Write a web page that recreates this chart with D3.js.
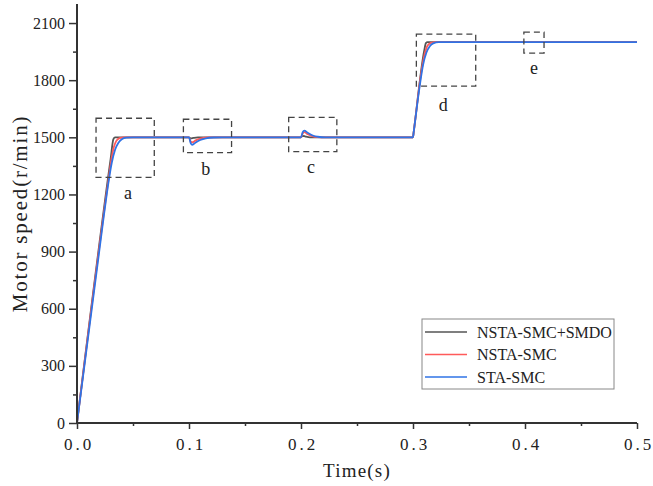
<!DOCTYPE html>
<html>
<head>
<meta charset="utf-8">
<script src="https://cdn.jsdelivr.net/npm/d3@7"></script>
<style>
  html, body { margin: 0; padding: 0; background: #fff; }
  svg { display: block; }
</style>
</head>
<body>
<svg id="chart" width="653" height="486"></svg>
<script>
// Speed response samples [time (s), speed (r/min)]
const nstaSmdo = [
  [0, 0], [0.030, 1385], [0.0325, 1490], [0.034, 1500],
  [0.1, 1500], [0.1015, 1494], [0.104, 1497], [0.108, 1500],
  [0.2, 1500], [0.2015, 1508], [0.204, 1504], [0.208, 1500],
  [0.3, 1500], [0.3005, 1522], [0.310, 1955], [0.3115, 1995], [0.313, 2000],
  [0.5, 2000]
];
const nstaSmc = [
  [0, 0], [0.028, 1272], [0.031, 1395], [0.033, 1450], [0.035, 1480], [0.038, 1496], [0.042, 1500],
  [0.1, 1500], [0.1015, 1478], [0.103, 1474], [0.106, 1484], [0.110, 1493], [0.116, 1499], [0.122, 1500],
  [0.2, 1500], [0.2015, 1520], [0.203, 1527], [0.206, 1516], [0.210, 1506], [0.215, 1501], [0.220, 1500],
  [0.3, 1500], [0.3005, 1522], [0.308, 1864], [0.311, 1950], [0.313, 1982], [0.316, 1996], [0.320, 2000],
  [0.5, 2000]
];
const staSmc = [
  [0, 0], [0.024, 1090], [0.028, 1260], [0.031, 1365], [0.034, 1435], [0.037, 1472], [0.040, 1490], [0.044, 1498], [0.050, 1500],
  [0.1, 1500], [0.1015, 1470], [0.103, 1461], [0.106, 1473], [0.110, 1486], [0.115, 1495], [0.122, 1499], [0.130, 1500],
  [0.2, 1500], [0.2015, 1527], [0.203, 1535], [0.206, 1524], [0.210, 1511], [0.215, 1503], [0.222, 1500],
  [0.3, 1500], [0.3005, 1522], [0.306, 1770], [0.309, 1880], [0.312, 1945], [0.315, 1978], [0.318, 1993], [0.323, 2000],
  [0.5, 2000]
];

const seriesNames = ["NSTA-SMC+SMDO", "NSTA-SMC", "STA-SMC"];
const seriesColors = ["#555555", "#ff5a5a", "#2f73e6"];
const seriesData = [nstaSmdo, nstaSmc, staSmc];

const xTicks = [0, 0.1, 0.2, 0.3, 0.4, 0.5];
const xMinor = [0.05, 0.15, 0.25, 0.35, 0.45];
const yTicks = [0, 300, 600, 900, 1200, 1500, 1800, 2100];
const yMinor = [150, 450, 750, 1050, 1350, 1650, 1950];

// Zoom windows [t0, t1, v0, v1] and their letters
const zoomBoxes = [
  [0.017, 0.069, 1290, 1600],
  [0.095, 0.138, 1420, 1595],
  [0.189, 0.232, 1425, 1605],
  [0.303, 0.356, 1769, 2042],
  [0.399, 0.417, 1942, 2052]
];
const zoomLabels = ["a", "b", "c", "d", "e"];
// label anchor [time, speed]
const zoomLabelPos = [[0.0455, 1175], [0.115, 1300], [0.209, 1315], [0.327, 1640], [0.408, 1835]];

const svg = d3.select("#chart");
const plotLeft = 77, plotRight = 637, plotTop = 4, plotBottom = 423;

const x = d3.scaleLinear().domain([0, 0.5]).range([plotLeft, plotRight]);
const y = d3.scaleLinear().domain([0, 2200]).range([plotBottom, plotTop]);

const serif = "'Liberation Serif', 'DejaVu Serif', serif";

// minor ticks
const xMinorAxis = d3.axisBottom(x).tickValues(xMinor).tickSize(3).tickFormat("");
const yMinorAxis = d3.axisLeft(y).tickValues(yMinor).tickSize(4).tickFormat("");

svg.append("g").attr("transform", `translate(0,${plotBottom})`).call(xMinorAxis)
  .call(g => g.select(".domain").remove())
  .call(g => g.selectAll("line").attr("stroke", "#333").attr("stroke-width", 1.5));
svg.append("g").attr("transform", `translate(${plotLeft},0)`).call(yMinorAxis)
  .call(g => g.select(".domain").remove())
  .call(g => g.selectAll("line").attr("stroke", "#333").attr("stroke-width", 1.5));

// data lines
const line = d3.line().x(d => x(d[0])).y(d => y(d[1])).curve(d3.curveMonotoneX);
seriesData.forEach((s, i) => {
  svg.append("path")
    .datum(s)
    .attr("fill", "none")
    .attr("stroke", seriesColors[i])
    .attr("stroke-width", 1.8)
    .attr("stroke-linejoin", "round")
    .attr("d", line);
});

// major axes
const xAxis = d3.axisBottom(x).tickValues(xTicks).tickSize(6).tickPadding(9)
  .tickFormat(d => d3.format(".1f")(d));
const yAxis = d3.axisLeft(y).tickValues(yTicks).tickSize(8).tickPadding(4).tickFormat(d3.format("d"));

svg.append("g").attr("transform", `translate(0,${plotBottom})`).call(xAxis)
  .call(g => g.select(".domain").attr("d", `M${plotLeft},0H${plotRight}`).attr("stroke", "#333").attr("stroke-width", 2))
  .call(g => g.selectAll(".tick line").attr("stroke", "#333").attr("stroke-width", 1.5))
  .call(g => g.selectAll(".tick text").attr("font-family", serif).attr("font-size", 17)
    .attr("letter-spacing", 3).attr("dx", 1.5).attr("fill", "#222"));

svg.append("g").attr("transform", `translate(${plotLeft},0)`).call(yAxis)
  .call(g => g.select(".domain").attr("d", `M0,${plotBottom}V${plotTop}`).attr("stroke", "#333").attr("stroke-width", 2))
  .call(g => g.selectAll(".tick line").attr("stroke", "#333").attr("stroke-width", 1.5))
  .call(g => g.selectAll(".tick text").attr("font-family", serif).attr("font-size", 16).attr("fill", "#222"));

// axis titles
svg.append("text")
  .attr("x", (plotLeft + plotRight) / 2).attr("y", 477)
  .attr("text-anchor", "middle")
  .attr("font-family", serif).attr("font-size", 19).attr("letter-spacing", 1.2).attr("fill", "#222")
  .text("Time(s)");
svg.append("text")
  .attr("transform", `translate(27,${(plotTop + plotBottom) / 2}) rotate(-90)`)
  .attr("text-anchor", "middle")
  .attr("font-family", serif).attr("font-size", 21).attr("letter-spacing", 1.8).attr("fill", "#222")
  .text("Motor speed(r/min)");

// dashed zoom windows
zoomBoxes.forEach((b, i) => {
  svg.append("rect")
    .attr("x", x(b[0])).attr("y", y(b[3]))
    .attr("width", x(b[1]) - x(b[0])).attr("height", y(b[2]) - y(b[3]))
    .attr("fill", "none").attr("stroke", "#444").attr("stroke-width", 1.3)
    .attr("stroke-dasharray", "6,4");
  svg.append("text")
    .attr("x", x(zoomLabelPos[i][0])).attr("y", y(zoomLabelPos[i][1]))
    .attr("text-anchor", "middle")
    .attr("font-family", serif).attr("font-size", 18).attr("fill", "#222")
    .text(zoomLabels[i]);
});

// legend
const lg = svg.append("g").attr("transform", "translate(422,319)");
lg.append("rect").attr("width", 192).attr("height", 70)
  .attr("fill", "#fff").attr("stroke", "#888").attr("stroke-width", 1);
seriesNames.forEach((name, i) => {
  const cy = 13 + i * 22.5;
  lg.append("line").attr("x1", 3).attr("x2", 45).attr("y1", cy).attr("y2", cy)
    .attr("stroke", seriesColors[i]).attr("stroke-width", 1.6);
  lg.append("text").attr("x", 55).attr("y", cy).attr("dy", "0.35em")
    .attr("font-family", serif).attr("font-size", 16).attr("fill", "#222")
    .text(name);
});
</script>
</body>
</html>
